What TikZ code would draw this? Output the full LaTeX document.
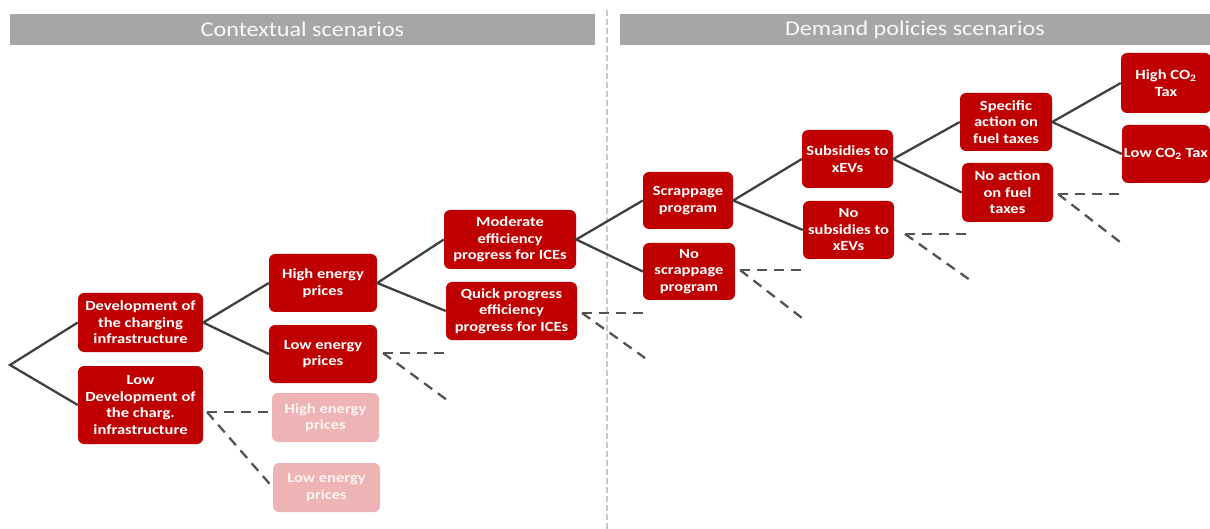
\documentclass[tikz,border=0pt]{standalone}
\usepackage{fontspec}
\setmainfont{Carlito}
\newfontfamily\boxfont{Carlito}[FakeStretch=1.18]
\newfontfamily\headfont{Carlito}[FakeStretch=1.15]
\definecolor{boxred}{HTML}{C00000}
\definecolor{fadered}{HTML}{EDB3B5}
\definecolor{linegray}{HTML}{404040}
\definecolor{headgray}{HTML}{A6A6A6}
\definecolor{sepgray}{HTML}{C8C8C8}
\tikzset{
  sbox/.style={rectangle, rounded corners=6pt, fill=boxred, text=white, font=\boxfont\fontsize{14}{16.5}\selectfont\bfseries, align=center, inner sep=1pt},
  fbox/.style={sbox, fill=fadered, text=white!85!fadered},
  conn/.style={draw=linegray, line width=2.3pt},
  dconn/.style={draw=linegray!90, line width=2.3pt, dash pattern=on 10pt off 7pt},
  header/.style={rectangle, fill=headgray, text=white!93!headgray, font=\headfont\fontsize{21}{24}\selectfont, inner sep=0pt}
}
\begin{document}
\begin{tikzpicture}[x=1pt,y=-1pt]
\useasboundingbox (0,0) rectangle (1210,529);
% headers
\node[header, minimum width=585pt, minimum height=31pt] (h1) at (302.5,29.5) {Contextual scenarios};
\node[header, minimum width=590pt, minimum height=31pt] (h2) at (915,29.5) {Demand policies scenarios};
\draw[sepgray, line width=2pt, dash pattern=on 6pt off 3pt] (607,10) -- (607,529);
% nodes
\coordinate (root) at (10,365);
\node[sbox, minimum width=125pt, minimum height=59pt] (dev) at (140.5,322.5) {Development of\\the charging\\infrastructure};
\node[sbox, minimum width=125pt, minimum height=78pt] (lowdev) at (140.5,405) {Low\\Development of\\the charg.\\infrastructure};
\node[sbox, minimum width=108pt, minimum height=58pt] (hep) at (323,283) {High energy\\prices};
\node[sbox, minimum width=108pt, minimum height=58pt] (lep) at (323,354) {Low energy\\prices};
\node[fbox, minimum width=107pt, minimum height=49pt] (fhep) at (325.5,417.5) {High energy\\prices};
\node[fbox, minimum width=107pt, minimum height=49pt] (flep) at (326.5,487.5) {Low energy\\prices};
\node[sbox, minimum width=132pt, minimum height=59pt] (mod) at (510,239.5) {Moderate\\efficiency\\progress for ICEs};
\node[sbox, minimum width=131pt, minimum height=58pt] (quick) at (511.5,311) {Quick progress\\efficiency\\progress for ICEs};
\node[sbox, minimum width=90pt, minimum height=57pt] (scr) at (688,200.5) {Scrappage\\program};
\node[sbox, minimum width=92pt, minimum height=57pt] (noscr) at (689,271.5) {No\\scrappage\\program};
\node[sbox, minimum width=91pt, minimum height=58pt] (sub) at (847.5,159) {Subsidies to\\xEVs};
\node[sbox, minimum width=91pt, minimum height=58pt] (nosub) at (848.5,230) {No\\subsidies to\\xEVs};
\node[sbox, minimum width=92pt, minimum height=58pt] (spec) at (1006,122) {Specific\\action on\\fuel taxes};
\node[sbox, minimum width=91pt, minimum height=59pt] (noact) at (1007.5,192.5) {No action\\on fuel\\taxes};
\node[sbox, minimum width=90pt, minimum height=60pt] (hco2) at (1166,83) {High CO\textsubscript{2}\\Tax};
\node[sbox, minimum width=88pt, minimum height=58pt] (lco2) at (1166,154) {Low CO\textsubscript{2} Tax};
% solid connectors
\draw[conn] (dev.west) -- (root) -- (lowdev.west);
\draw[conn] (hep.west) -- (dev.east) -- (lep.west);
\draw[conn] (mod.west) -- (hep.east) -- (quick.west);
\draw[conn] (scr.west) -- (mod.east) -- (noscr.west);
\draw[conn] (sub.west) -- (scr.east) -- (nosub.west);
\draw[conn] (spec.west) -- (sub.east) -- (noact.west);
\draw[conn] (hco2.west) -- (spec.east) -- (lco2.west);
% dashed connectors
\coordinate (d1) at (207,412);
\draw[dconn] (d1) -- (d1 -| fhep.west);
\draw[dconn] (d1) -- (flep.west);
\coordinate (d2) at (383,353);
\coordinate (d2a) at (447,353);
\coordinate (d2b) at (447,400);
\draw[dconn] (d2) -- (d2a);
\draw[dconn] (d2) -- (d2b);
\coordinate (d3) at (582,313);
\coordinate (d3a) at (645,313);
\coordinate (d3b) at (645,358);
\draw[dconn] (d3) -- (d3a);
\draw[dconn] (d3) -- (d3b);
\coordinate (d4) at (740,270);
\coordinate (d4a) at (802,270);
\coordinate (d4b) at (802,318);
\draw[dconn] (d4) -- (d4a);
\draw[dconn] (d4) -- (d4b);
\coordinate (d5) at (905,234);
\coordinate (d5a) at (970,234);
\coordinate (d5b) at (970,280);
\draw[dconn] (d5) -- (d5a);
\draw[dconn] (d5) -- (d5b);
\coordinate (d6) at (1058,194);
\coordinate (d6a) at (1120,194);
\coordinate (d6b) at (1120,242);
\draw[dconn] (d6) -- (d6a);
\draw[dconn] (d6) -- (d6b);
\end{tikzpicture}
\end{document}
